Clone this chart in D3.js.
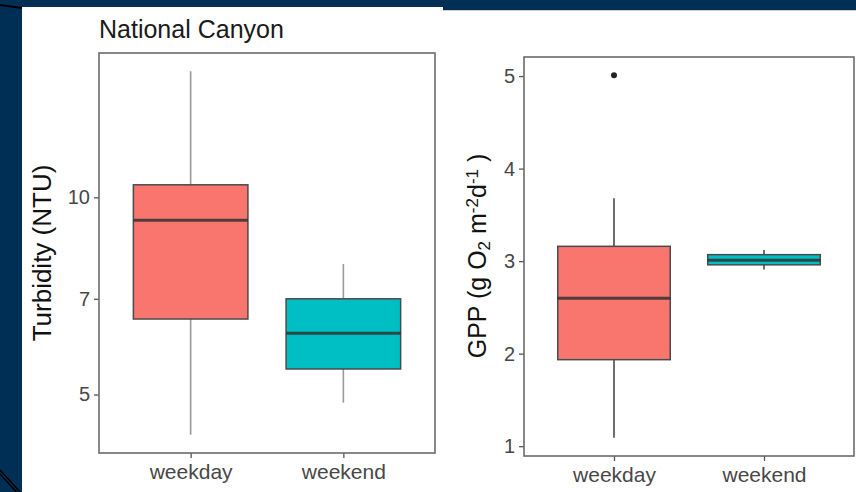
<!DOCTYPE html>
<html>
<head>
<meta charset="utf-8">
<script src="https://cdn.jsdelivr.net/npm/d3@7"></script>
<style>
  body { margin: 0; background: #002f56; }
  svg { display: block; font-family: "Liberation Sans", Arial, sans-serif; }
</style>
</head>
<body>
<div id="chart"></div>
<script>
const categories = ['weekday', 'weekend'];
const boxColors = ['#F8766D', '#00BFC4'];

// turbidity (NTU) at National Canyon, log axis
const turbLow = [4.34, 4.86];
const turbQ1 = [6.52, 5.47];
const turbMedian = [9.23, 6.20];
const turbQ3 = [10.45, 7.0];
const turbHigh = [15.58, 7.91];
const turbOutliers = [[], []];
const turbTicks = [5, 7, 10];

// GPP (g O2 m-2 d-1)
const gppLow = [1.09, 2.91];
const gppQ1 = [1.935, 2.96];
const gppMedian = [2.60, 3.01];
const gppQ3 = [3.16, 3.07];
const gppHigh = [3.68, 3.12];
const gppOutliers = [[5.01], []];
const gppTicks = [1, 2, 3, 4, 5];

const W = 856, H = 492;
const svg = d3.select('#chart').append('svg')
    .attr('width', W)
    .attr('height', H);

// slide background + the two white image cut-outs
svg.append('rect').attr('width', W).attr('height', H).attr('fill', '#002f56');
svg.append('rect').attr('x', 443).attr('y', 10).attr('width', 413).attr('height', H - 10).attr('fill', '#c9ccd0');
svg.append('rect').attr('x', 443).attr('y', 11).attr('width', 413).attr('height', H - 11).attr('fill', '#fff');
svg.append('rect').attr('x', 22).attr('y', 7).attr('width', 421).attr('height', H - 7).attr('fill', '#fff');
svg.append('line').attr('x1', 0).attr('y1', 5).attr('x2', 22).attr('y2', 8)
    .attr('stroke', '#000').attr('stroke-width', 2);
[0, 4].forEach(function (o) {
    svg.append('line').attr('x1', 0).attr('y1', 470 + o).attr('x2', 20).attr('y2', 492 + o)
        .attr('stroke', '#000').attr('stroke-width', 1.5);
});

function boxPanel(opts) {
    const g = svg.append('g');
    const rows = categories.map(function (c, i) {
        return {
            cat: c, fill: boxColors[i],
            low: opts.low[i], q1: opts.q1[i], med: opts.med[i], q3: opts.q3[i], high: opts.high[i],
            out: opts.out[i]
        };
    });

    // ggplot-like 5% expansion of the data range
    const all = d3.merge(rows.map(function (d) { return [d.low, d.high].concat(d.out); }));
    const ext = d3.extent(all);
    let y;
    if (opts.log) {
        const l0 = Math.log10(ext[0]), l1 = Math.log10(ext[1]), pad = (l1 - l0) * 0.05;
        y = d3.scaleLog().domain([Math.pow(10, l0 - pad), Math.pow(10, l1 + pad)]);
    } else {
        const pad = (ext[1] - ext[0]) * 0.05;
        y = d3.scaleLinear().domain([ext[0] - pad, ext[1] + pad]);
    }
    y.range([opts.bottom, opts.top]);

    const x = d3.scalePoint()
        .domain(categories)
        .range([opts.left, opts.right])
        .padding(0.6);
    const bw = x.step() * 0.75;

    // axes
    const yAxis = g.append('g')
        .attr('transform', 'translate(' + opts.left + ',0)')
        .call(d3.axisLeft(y).tickValues(opts.ticks).tickFormat(d3.format('d')).tickSize(5).tickPadding(4));
    const xAxis = g.append('g')
        .attr('transform', 'translate(0,' + opts.bottom + ')')
        .call(d3.axisBottom(x).tickSize(5).tickPadding(6));
    [yAxis, xAxis].forEach(function (a) {
        a.select('.domain').remove();
        a.selectAll('.tick line').attr('stroke', '#555').attr('stroke-width', 1.3);
        a.selectAll('.tick text').attr('fill', '#474747')
            .style('font-size', '20px')
            .style('font-family', '"Liberation Sans", Arial, sans-serif');
    });
    xAxis.selectAll('.tick text').style('font-size', '21px');

    const boxes = g.selectAll('.box')
        .data(rows)
        .enter()
        .append('g')
        .attr('class', 'box');

    boxes.append('line')
        .attr('x1', function (d) { return x(d.cat); })
        .attr('x2', function (d) { return x(d.cat); })
        .attr('y1', function (d) { return y(d.high); })
        .attr('y2', function (d) { return y(d.low); })
        .attr('stroke', opts.whisker)
        .attr('stroke-width', 1.6);

    boxes.append('rect')
        .attr('x', function (d) { return x(d.cat) - bw / 2; })
        .attr('width', bw)
        .attr('y', function (d) { return y(d.q3); })
        .attr('height', function (d) { return y(d.q1) - y(d.q3); })
        .attr('fill', function (d) { return d.fill; })
        .attr('stroke', '#4a4a4a')
        .attr('stroke-width', 1.5);

    boxes.append('line')
        .attr('x1', function (d) { return x(d.cat) - bw / 2; })
        .attr('x2', function (d) { return x(d.cat) + bw / 2; })
        .attr('y1', function (d) { return y(d.med); })
        .attr('y2', function (d) { return y(d.med); })
        .attr('stroke', '#333')
        .attr('stroke-opacity', 0.85)
        .attr('stroke-width', 3);

    boxes.selectAll('circle')
        .data(function (d) { return d.out.map(function (v) { return { cat: d.cat, v: v }; }); })
        .enter()
        .append('circle')
        .attr('cx', function (d) { return x(d.cat); })
        .attr('cy', function (d) { return y(d.v); })
        .attr('r', 3)
        .attr('fill', '#222');

    // panel border
    g.append('rect')
        .attr('x', opts.left)
        .attr('y', opts.top)
        .attr('width', opts.right - opts.left)
        .attr('height', opts.bottom - opts.top)
        .attr('fill', 'none')
        .attr('stroke', '#6b6b6b')
        .attr('stroke-width', 1.6);

    return g;
}

const left = boxPanel({
    left: 99, right: 435, top: 53, bottom: 453, log: true,
    low: turbLow, q1: turbQ1, med: turbMedian, q3: turbQ3, high: turbHigh, out: turbOutliers,
    ticks: turbTicks, whisker: '#9a9a9a'
});
left.append('text')
    .attr('x', 99)
    .attr('y', 38)
    .attr('fill', '#1a1a1a')
    .style('font-size', '25px')
    .text('National Canyon');
left.append('text')
    .attr('transform', 'translate(51,253) rotate(-90)')
    .attr('text-anchor', 'middle')
    .attr('fill', '#111')
    .style('font-size', '26px')
    .text('Turbidity (NTU)');

const right = boxPanel({
    left: 524, right: 854, top: 57, bottom: 456, log: false,
    low: gppLow, q1: gppQ1, med: gppMedian, q3: gppQ3, high: gppHigh, out: gppOutliers,
    ticks: gppTicks, whisker: '#4a4a4a'
});
const gppTitle = right.append('text')
    .attr('transform', 'translate(486,256) rotate(-90)')
    .attr('text-anchor', 'middle')
    .attr('fill', '#111')
    .style('font-size', '25px');
gppTitle.append('tspan').text('GPP (g O');
gppTitle.append('tspan').attr('baseline-shift', '-25%').style('font-size', '17px').text('2');
gppTitle.append('tspan').text(' m');
gppTitle.append('tspan').attr('baseline-shift', '45%').style('font-size', '17px').text('-2');
gppTitle.append('tspan').text('d');
gppTitle.append('tspan').attr('baseline-shift', '45%').style('font-size', '17px').text('-1');
gppTitle.append('tspan').text(' )');
</script>
</body>
</html>
